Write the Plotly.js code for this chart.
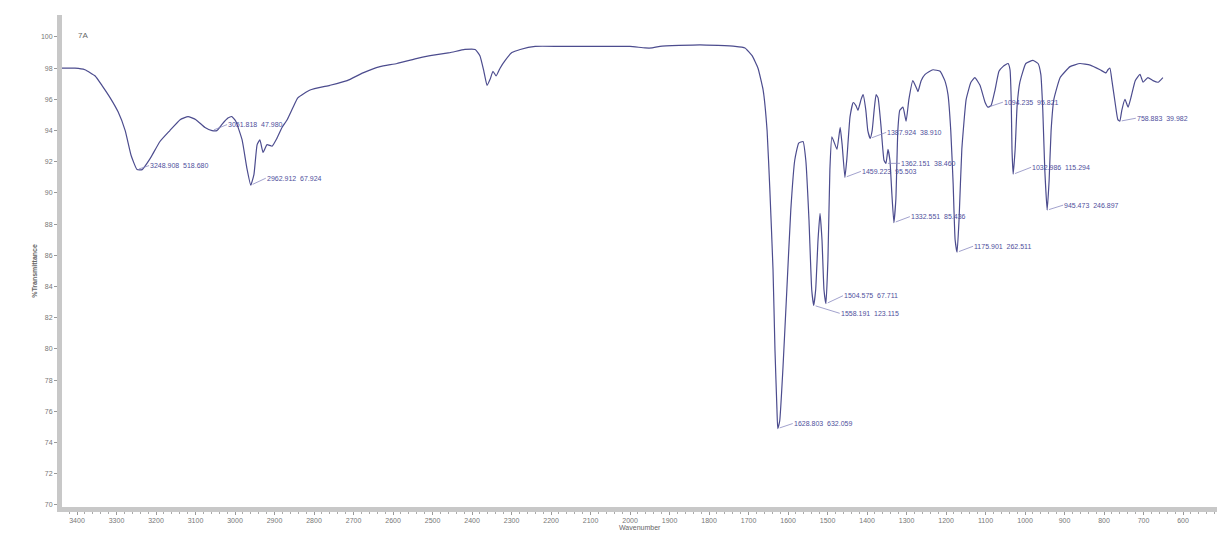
<!DOCTYPE html>
<html>
<head>
<meta charset="utf-8">
<script src="https://cdn.plot.ly/plotly-3.0.1.min.js"></script>
<style>html,body{margin:0;padding:0;background:#fff;}#chart{width:1217px;height:533px;}</style>
</head>
<body>
<div id="chart"></div>
<script>
// Spectrum: wavenumber (cm-1) and %Transmittance
var wavenumber = [3438,3405,3380,3354,3337,3316,3296,3278,3263,3248,3235,3215,3190,3165,3139,3119,3099,3076,3058,3046,3033,3018,3008,2998,2982,2970,2960,2952,2944,2937,2929,2919,2906,2894,2881,2868,2853,2841,2810,2760,2716,2676,2633,2590,2544,2506,2456,2418,2392,2380,2370,2362,2354,2347,2339,2329,2316,2299,2278,2240,2177,2076,2000,1962,1944,1924,1823,1734,1709,1691,1676,1663,1653,1646,1638,1633,1628,1626,1621,1613,1603,1593,1583,1573,1562,1555,1547,1540,1535,1530,1524,1519,1514,1509,1504,1499,1494,1489,1481,1476,1468,1463,1456,1451,1443,1435,1428,1423,1415,1410,1403,1398,1392,1387,1382,1377,1372,1365,1357,1352,1347,1342,1337,1332,1327,1322,1317,1309,1301,1294,1284,1276,1271,1263,1253,1233,1215,1203,1195,1188,1182,1177,1172,1167,1160,1149,1137,1127,1114,1101,1094,1086,1076,1066,1056,1043,1038,1035,1033,1030,1025,1020,1013,998,980,967,960,955,950,944,939,934,927,911,886,861,835,810,795,790,785,780,772,765,760,755,747,739,731,721,709,701,689,676,663,651];
var transmittance = [98.0,98.0,97.9,97.5,96.9,96.1,95.2,94.0,92.4,91.5,91.5,92.2,93.3,94.0,94.7,94.9,94.7,94.2,94.0,94.0,94.4,94.8,94.9,94.6,93.4,91.6,90.5,91.2,93.1,93.4,92.6,93.1,93.0,93.5,94.2,94.7,95.5,96.1,96.6,96.9,97.2,97.7,98.1,98.3,98.6,98.8,99.0,99.2,99.2,98.8,97.8,96.9,97.3,97.8,97.5,98.0,98.5,99.0,99.2,99.4,99.4,99.4,99.4,99.3,99.3,99.4,99.5,99.4,99.3,98.8,98.0,96.6,94.0,90.2,85.1,79.9,76.1,74.9,75.4,78.7,83.8,88.9,92.1,93.2,93.3,92.1,88.3,83.8,82.8,83.8,87.0,88.7,87.0,83.8,82.9,85.7,91.5,93.6,93.1,92.8,94.2,93.1,91.0,92.2,94.9,95.8,95.6,95.3,96.0,96.3,95.3,94.0,93.5,94.0,95.3,96.3,96.1,94.4,92.1,91.9,92.8,92.1,89.9,88.1,89.6,94.0,95.3,95.5,94.6,96.0,97.2,96.8,96.5,97.2,97.6,97.9,97.8,97.2,96.3,94.0,90.6,87.0,86.2,88.3,92.8,96.0,97.1,97.4,96.9,95.8,95.5,95.6,96.6,97.8,98.1,98.3,97.9,96.0,92.8,91.2,92.8,95.6,97.1,98.3,98.5,98.3,97.6,95.3,91.5,88.9,90.8,94.0,96.0,97.4,98.1,98.3,98.2,97.9,97.7,97.9,98.0,97.2,95.8,94.7,94.6,95.3,96.0,95.5,96.2,97.2,97.6,97.1,97.4,97.2,97.1,97.4];

// Peak picks
var peakWn = [3248, 3058, 2960, 1626, 1535, 1504, 1456, 1392, 1352, 1332, 1172, 1094, 1030, 944, 760];
var peakT  = [91.5, 94.0, 90.5, 74.9, 82.8, 82.9, 91.0, 93.5, 91.9, 88.1, 86.2, 95.5, 91.2, 88.9, 94.6];
var peakLabel = ["3248.908  518.680","3051.818  47.980","2962.912  67.924","1628.803  632.059","1558.191  123.115","1504.575  67.711","1459.223  95.503","1387.924  38.910","1362.151  38.460","1332.551  85.436","1175.901  262.511","1094.235  95.821","1032.986  115.294","945.473  246.897","758.883  39.982"];
var peakAx = [12,15,15,15,26,17,16,16,14,16,16,15,18,16,16];
var peakAy = [-4,-6,-7,-5,8,-8,-6,-6,0,-6,-6,-5,-7,-5,-3];

var xTicks = [];
for (var v = 3400; v >= 600; v -= 100) xTicks.push(v);
var yTicks = [];
for (var t = 70; t <= 100; t += 2) yTicks.push(t);

var annotations = [];
for (var i = 0; i < peakWn.length; i++) {
  annotations.push({
    x: peakWn[i], y: peakT[i], xref: 'x', yref: 'y',
    text: peakLabel[i], showarrow: true, arrowhead: 0, arrowwidth: 0.8,
    arrowcolor: '#8a8ac0', ax: peakAx[i], ay: peakAy[i], xanchor: 'left',
    standoff: 2, borderpad: 0,
    font: {family: 'Liberation Sans, Arial, sans-serif', size: 7, color: '#4f4f9c'}
  });
}
annotations.push({xref:'paper', yref:'paper', x:0, y:1, xshift:14, yshift:-14, xanchor:'left', yanchor:'top',
  text:'7A', showarrow:false, font:{family:'Liberation Sans, Arial, sans-serif', size:8, color:'#666'}});
annotations.push({xref:'paper', yref:'paper', x:0, y:0.48, xshift:-27, xanchor:'center', yanchor:'middle',
  text:'<b>%Transmittance</b>', textangle:-90, showarrow:false, font:{family:'Liberation Sans, Arial, sans-serif', size:7, color:'#666'}});
annotations.push({xref:'paper', yref:'paper', x:0.5, y:0, yshift:-26, xanchor:'center', yanchor:'bottom',
  text:'Wavenumber', showarrow:false, font:{family:'Liberation Sans, Arial, sans-serif', size:7, color:'#666'}});

var trace = {
  x: wavenumber, y: transmittance, type: 'scatter', mode: 'lines',
  line: {color: '#4c4c8e', width: 1.2, shape: 'spline', smoothing: 0.4},
  hoverinfo: 'x+y'
};

var layout = {
  width: 1217, height: 533,
  margin: {l: 62, r: 0, t: 15, b: 26},
  paper_bgcolor: '#fff', plot_bgcolor: '#fff',
  showlegend: false,
  xaxis: {
    range: [3438, 514], tickvals: xTicks, ticktext: xTicks.map(String),
    ticks: 'outside', ticklen: 3, tickcolor: '#999', tickwidth: 1,
    showline: true, linecolor: '#c8c8c8', linewidth: 5, mirror: false,
    showgrid: false, zeroline: false,
    tickfont: {family: 'Liberation Sans, Arial, sans-serif', size: 7, color: '#777'},
    minor: {dtick: 20, tick0: 0, ticks: 'outside', ticklen: 2, tickcolor: '#aaa', showgrid: false}
  },
  yaxis: {
    range: [69.87, 101.41], tickvals: yTicks, ticktext: yTicks.map(String),
    ticks: 'outside', ticklen: 3, tickcolor: '#999', tickwidth: 1,
    showline: true, linecolor: '#c8c8c8', linewidth: 5,
    showgrid: false, zeroline: false,
    tickfont: {family: 'Liberation Sans, Arial, sans-serif', size: 7, color: '#777'}
  },
  annotations: annotations
};

Plotly.newPlot('chart', [trace], layout, {staticPlot: true, displayModeBar: false});
</script>
</body>
</html>
